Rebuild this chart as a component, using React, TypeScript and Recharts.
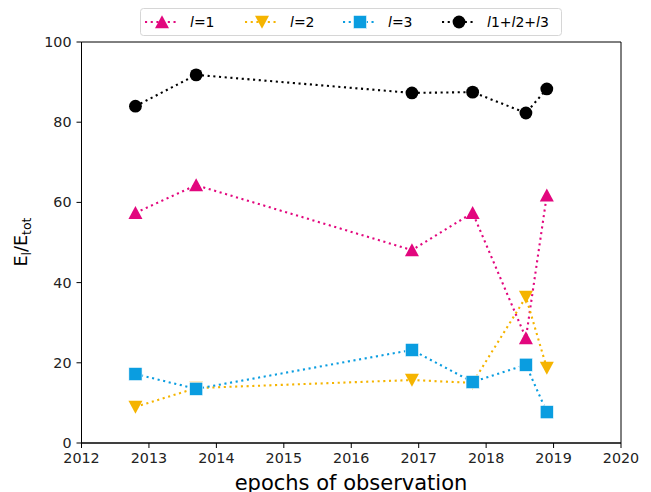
import React from 'react';
import { LineChart, Line, XAxis, YAxis, ReferenceArea } from 'recharts';

// observation epochs (decimal years)
const epochs = [2012.8, 2013.7, 2016.9, 2017.8, 2018.59, 2018.9];
// energy fraction per harmonic degree, percent
const l1 = [57.4, 64.3, 48.1, 57.4, 26.2, 61.8];
const l2 = [9.0, 13.7, 15.7, 15.0, 36.4, 18.7];
const l3 = [17.2, 13.5, 23.2, 15.2, 19.5, 7.7];
const lSum = [84.0, 91.8, 87.3, 87.5, 82.3, 88.3];

const xTicks = [2012, 2013, 2014, 2015, 2016, 2017, 2018, 2019, 2020];
const yTicks = [0, 20, 40, 60, 80, 100];

const PINK = '#E2077E';
const ORANGE = '#F5B400';
const BLUE = '#0A9DE0';
const BLACK = '#000000';

const FONT = '"DejaVu Sans", sans-serif';
const DOTTED = '2.1 3.6';
const LW = 2.1;

const data = epochs.map((x, i) => ({ x, l1: l1[i], l2: l2[i], l3: l3[i], sum: lSum[i] }));

type Kind = 'up' | 'down' | 'square' | 'circle';

const Marker = ({ kind, cx, cy, color }: { kind: Kind; cx: number; cy: number; color: string }) => {
  switch (kind) {
    case 'up':
      return <path d={`M${cx},${cy - 6.8} L${cx + 7},${cy + 6.2} L${cx - 7},${cy + 6.2} Z`} fill={color} />;
    case 'down':
      return <path d={`M${cx},${cy + 6.8} L${cx + 7},${cy - 6.2} L${cx - 7},${cy - 6.2} Z`} fill={color} />;
    case 'square':
      return <rect x={cx - 6.6} y={cy - 6.6} width={13.2} height={13.2} fill={color} stroke="#ffffff" strokeWidth={0.6} />;
    default:
      return <circle cx={cx} cy={cy} r={6.4} fill={color} />;
  }
};

const dotFor = (kind: Kind, color: string) => (props: any) => {
  const { cx, cy, index } = props;
  if (cx == null || cy == null) return <g key={`d-${index}`} />;
  return <Marker key={`${kind}-${index}`} kind={kind} cx={cx} cy={cy} color={color} />;
};

const series: { key: string; kind: Kind; color: string }[] = [
  { key: 'l1', kind: 'up', color: PINK },
  { key: 'l2', kind: 'down', color: ORANGE },
  { key: 'l3', kind: 'square', color: BLUE },
  { key: 'sum', kind: 'circle', color: BLACK },
];

const AxisTitles = () => (
  <svg width={651} height={492} style={{ position: 'absolute', left: 0, top: 0, pointerEvents: 'none' }}>
    <text
      transform="translate(27,242) rotate(-90)"
      textAnchor="middle"
      fontFamily={FONT}
      fontSize={17.5}
      fill="#000"
    >
      E<tspan fontSize={12.5} dy={4}>l</tspan>
      <tspan dy={-4}>/E</tspan>
      <tspan fontSize={12.5} dy={4}>tot</tspan>
    </text>
    <text x={351} y={490} textAnchor="middle" fontFamily={FONT} fontSize={21} fill="#000">
      epochs of observation
    </text>
  </svg>
);

const LegendItem = ({ x, kind, color, children }: { x: number; kind: Kind; color: string; children: React.ReactNode }) => (
  <g>
    <line x1={x - 17} x2={x + 17} y1={22} y2={22} stroke={color} strokeWidth={LW} strokeDasharray={DOTTED} />
    <Marker kind={kind} cx={x} cy={22} color={color} />
    <text x={x + 28} y={27} fontFamily={FONT} fontSize={14} fill="#000">{children}</text>
  </g>
);

const LegendBox = () => (
  <svg width={651} height={40} style={{ position: 'absolute', left: 0, top: 0 }}>
    <rect x={140.5} y={8.5} width={421} height={27} rx={3} fill="#fff" stroke="#d6d6d6" strokeWidth={1} />
    <LegendItem x={162} kind="up" color={PINK}>
      <tspan fontStyle="italic">l</tspan>=1
    </LegendItem>
    <LegendItem x={262} kind="down" color={ORANGE}>
      <tspan fontStyle="italic">l</tspan>=2
    </LegendItem>
    <LegendItem x={360} kind="square" color={BLUE}>
      <tspan fontStyle="italic">l</tspan>=3
    </LegendItem>
    <LegendItem x={459} kind="circle" color={BLACK}>
      <tspan fontStyle="italic">l</tspan>1+<tspan fontStyle="italic">l</tspan>2+<tspan fontStyle="italic">l</tspan>3
    </LegendItem>
  </svg>
);

export default function App() {
  const tickStyle = { fontSize: 14.3, fill: '#222', fontFamily: FONT };
  return (
    <div style={{ position: 'absolute', left: 0, top: 0, width: 651, height: 492, background: '#fff', overflow: 'hidden' }}>
      <LineChart width={651} height={492} data={data} margin={{ top: 42, right: 30, bottom: 0, left: 0 }}>
        <XAxis
          dataKey="x"
          type="number"
          domain={[2012, 2020]}
          ticks={xTicks}
          allowDataOverflow
          height={49}
          tickSize={5}
          tickMargin={5}
          tick={tickStyle}
          axisLine={{ stroke: '#000' }}
          tickLine={{ stroke: '#000' }}
        />
        <YAxis
          type="number"
          domain={[0, 100]}
          ticks={yTicks}
          width={81.5}
          tickSize={5}
          tickMargin={5}
          tick={tickStyle}
          axisLine={{ stroke: '#000' }}
          tickLine={{ stroke: '#000' }}
        />
        <ReferenceArea x1={2012} x2={2020} y1={0} y2={100} fill="none" stroke="#000" strokeWidth={1} />
        {series.map((s) => (
          <Line
            key={s.key}
            dataKey={s.key}
            type="linear"
            stroke={s.color}
            strokeWidth={LW}
            strokeDasharray={DOTTED}
            dot={dotFor(s.kind, s.color)}
            activeDot={false}
            isAnimationActive={false}
          />
        ))}
      </LineChart>
      <AxisTitles />
      <LegendBox />
    </div>
  );
}
